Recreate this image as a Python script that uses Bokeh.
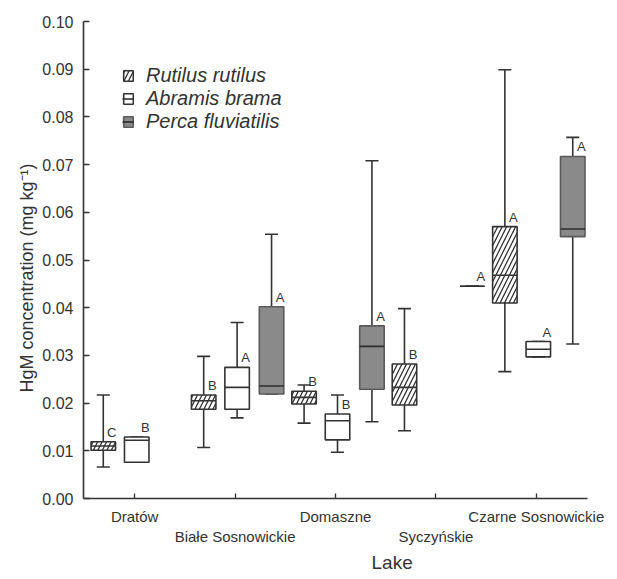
from bokeh.plotting import figure
from bokeh.models import (ColumnDataSource, Range1d, FixedTicker, NumeralTickFormatter,
                          Legend, LegendItem, LinearAxis, Title)
from bokeh.embed import file_html
from bokeh.resources import INLINE
from bokeh.core.properties import value

# ---------------- data ----------------
lakes = ["Dratów", "Białe Sosnowickie", "Domaszne", "Syczyńskie", "Czarne Sosnowickie"]
species = ["Rutilus rutilus", "Abramis brama", "Perca fluviatilis"]

# Rutilus rutilus (one per lake)
rut_lake = [0, 1, 2, 3, 4]
rut_low = [0.0066, 0.0107, 0.0158, 0.0142, 0.0266]
rut_q1 = [0.0101, 0.0187, 0.0198, 0.0196, 0.0410]
rut_med = [0.0110, 0.0205, 0.0212, 0.0233, 0.0468]
rut_q3 = [0.0119, 0.0217, 0.0225, 0.0282, 0.0570]
rut_high = [0.0217, 0.0298, 0.0238, 0.0398, 0.0899]
rut_grp = ["C", "B", "B", "B", "A"]

# Abramis brama
abr_lake = [0, 1, 2, 4]
abr_low = [0.0076, 0.0169, 0.0097, 0.0297]
abr_q1 = [0.0076, 0.0187, 0.0123, 0.0297]
abr_med = [0.0122, 0.0233, 0.0163, 0.0313]
abr_q3 = [0.0129, 0.0275, 0.0177, 0.0329]
abr_high = [0.0129, 0.0369, 0.0217, 0.0329]
abr_grp = ["B", "A", "B", "A"]

# Perca fluviatilis
per_lake = [1, 2, 3, 4]
per_low = [0.0219, 0.0161, 0.0445, 0.0324]
per_q1 = [0.0219, 0.0229, 0.0445, 0.0549]
per_med = [0.0236, 0.0319, 0.0445, 0.0565]
per_q3 = [0.0402, 0.0362, 0.0445, 0.0717]
per_high = [0.0554, 0.0708, 0.0445, 0.0757]
per_grp = ["A", "A", "A", "A"]

y_ticks = [0.00, 0.01, 0.02, 0.03, 0.04, 0.05, 0.06, 0.07, 0.08, 0.09, 0.10]
x_title = "Lake"
y_title = "HgM concentration (mg kg\u207b\u00b9)"

# ---------------- layout constants ----------------
OFFSETS = [-0.313, 0.02, 0.363]
HALF_W = 0.122
CAP_W = 0.065
INK = "#333333"
FONT = "Liberation Sans"

p = figure(width=610, height=578, output_backend="svg", toolbar_location=None,
           x_range=Range1d(0.49, 5.51), y_range=Range1d(0.0, 0.10),
           min_border_left=83, min_border_right=23, min_border_top=21, min_border_bottom=80,
           x_axis_type=None, y_axis_type=None)
p.outline_line_color = None
p.background_fill_color = "white"
p.border_fill_color = "white"

# x axis: line + inward ticks, labels not drawn
xaxis = LinearAxis(ticker=FixedTicker(ticks=[1, 2, 3, 4, 5]))
xaxis.major_label_text_color = None
xaxis.major_label_text_font_size = "1px"
xaxis.major_label_standoff = 0
xaxis.major_tick_in = 5
xaxis.major_tick_out = 0
xaxis.minor_tick_line_color = None
xaxis.axis_line_color = INK
xaxis.axis_line_width = 1.6
xaxis.major_tick_line_color = INK
xaxis.major_tick_line_width = 1.3
p.add_layout(xaxis, "below")

# staggered lake names: two label-only axes
for ticks, standoff in (([1, 3, 5], 9), ([2, 4], 0)):
    ax = LinearAxis(ticker=FixedTicker(ticks=ticks),
                    major_label_overrides={t: lakes[t - 1] for t in ticks})
    ax.axis_line_color = None
    ax.major_tick_line_color = None
    ax.minor_tick_line_color = None
    ax.major_tick_in = 0
    ax.major_tick_out = 0
    ax.major_label_standoff = standoff
    ax.major_label_text_font = FONT
    ax.major_label_text_font_size = "15px"
    ax.major_label_text_color = INK
    p.add_layout(ax, "below")

p.add_layout(Title(text=x_title, align="left", offset=288, text_font=FONT,
                   text_font_size="19px", text_font_style="normal", text_color=INK,
                   standoff=4), "below")

yaxis = LinearAxis(ticker=FixedTicker(ticks=y_ticks), formatter=NumeralTickFormatter(format="0.00"))
yaxis.major_tick_in = 6
yaxis.major_tick_out = 0
yaxis.minor_tick_line_color = None
yaxis.axis_line_color = INK
yaxis.axis_line_width = 1.6
yaxis.major_tick_line_color = INK
yaxis.major_tick_line_width = 1.3
yaxis.major_label_text_font = FONT
yaxis.major_label_text_font_size = "16px"
yaxis.major_label_text_color = INK
yaxis.major_label_standoff = 10
p.add_layout(yaxis, "left")

p.add_layout(Title(text=y_title, align="left", offset=106, text_font=FONT,
                   text_font_size="18px", text_font_style="normal", text_color=INK,
                   standoff=6), "left")


def draw(lk, low, q1, med, q3, high, grp, k, fill, line, med_color, hatch):
    x = [i + 1 + OFFSETS[k] for i in lk]
    src = ColumnDataSource(dict(
        x=x, left=[v - HALF_W for v in x], right=[v + HALF_W for v in x],
        low=low, q1=q1, med=med, q3=q3, high=high,
        cl=[v - CAP_W for v in x], cr=[v + CAP_W for v in x],
        tx=[v + 0.085 for v in x], grp=grp))
    for a, b in (("q3", "high"), ("low", "q1")):
        p.segment(x0="x", y0=a, x1="x", y1=b, source=src, line_color=INK, line_width=1.6)
    for c in ("high", "low"):
        p.segment(x0="cl", y0=c, x1="cr", y1=c, source=src, line_color=INK, line_width=1.6)
    kw = dict(left="left", right="right", bottom="q1", top="q3", source=src,
              fill_color=fill, line_color=line, line_width=1.6)
    if hatch:
        kw.update(hatch_pattern="/", hatch_scale=9, hatch_weight=1.3, hatch_color=INK)
    box = p.quad(**kw)
    medr = p.segment(x0="left", y0="med", x1="right", y1="med", source=src,
                     line_color=med_color, line_width=1.6)
    p.text(x="tx", y="q3", text="grp", source=src, text_align="center", text_baseline="bottom",
           y_offset=-2, text_font=value(FONT), text_font_size="13px", text_color=INK)
    return box, medr


r_box, r_med = draw(rut_lake, rut_low, rut_q1, rut_med, rut_q3, rut_high, rut_grp, 0,
                    "white", INK, INK, True)
a_box, a_med = draw(abr_lake, abr_low, abr_q1, abr_med, abr_q3, abr_high, abr_grp, 1,
                    "white", INK, INK, False)
p_box, p_med = draw(per_lake, per_low, per_q1, per_med, per_q3, per_high, per_grp, 2,
                    "#8a8a8a", "#5a5a5a", "#2b2b2b", False)

legend = Legend(items=[
    LegendItem(label=species[0], renderers=[r_box]),
    LegendItem(label=species[1], renderers=[a_box, a_med]),
    LegendItem(label=species[2], renderers=[p_box, p_med]),
], location=(39, 365))
legend.padding = 0
legend.margin = 0
legend.spacing = 0
legend.glyph_width = 12
legend.glyph_height = 13
legend.label_height = 20
legend.label_standoff = 12
legend.label_text_font = FONT
legend.label_text_font_style = "italic"
legend.label_text_font_size = "20px"
legend.label_text_color = INK
legend.border_line_alpha = 0
legend.background_fill_alpha = 0
p.add_layout(legend, "center")

open("out.html", "w").write(file_html(p, INLINE))
